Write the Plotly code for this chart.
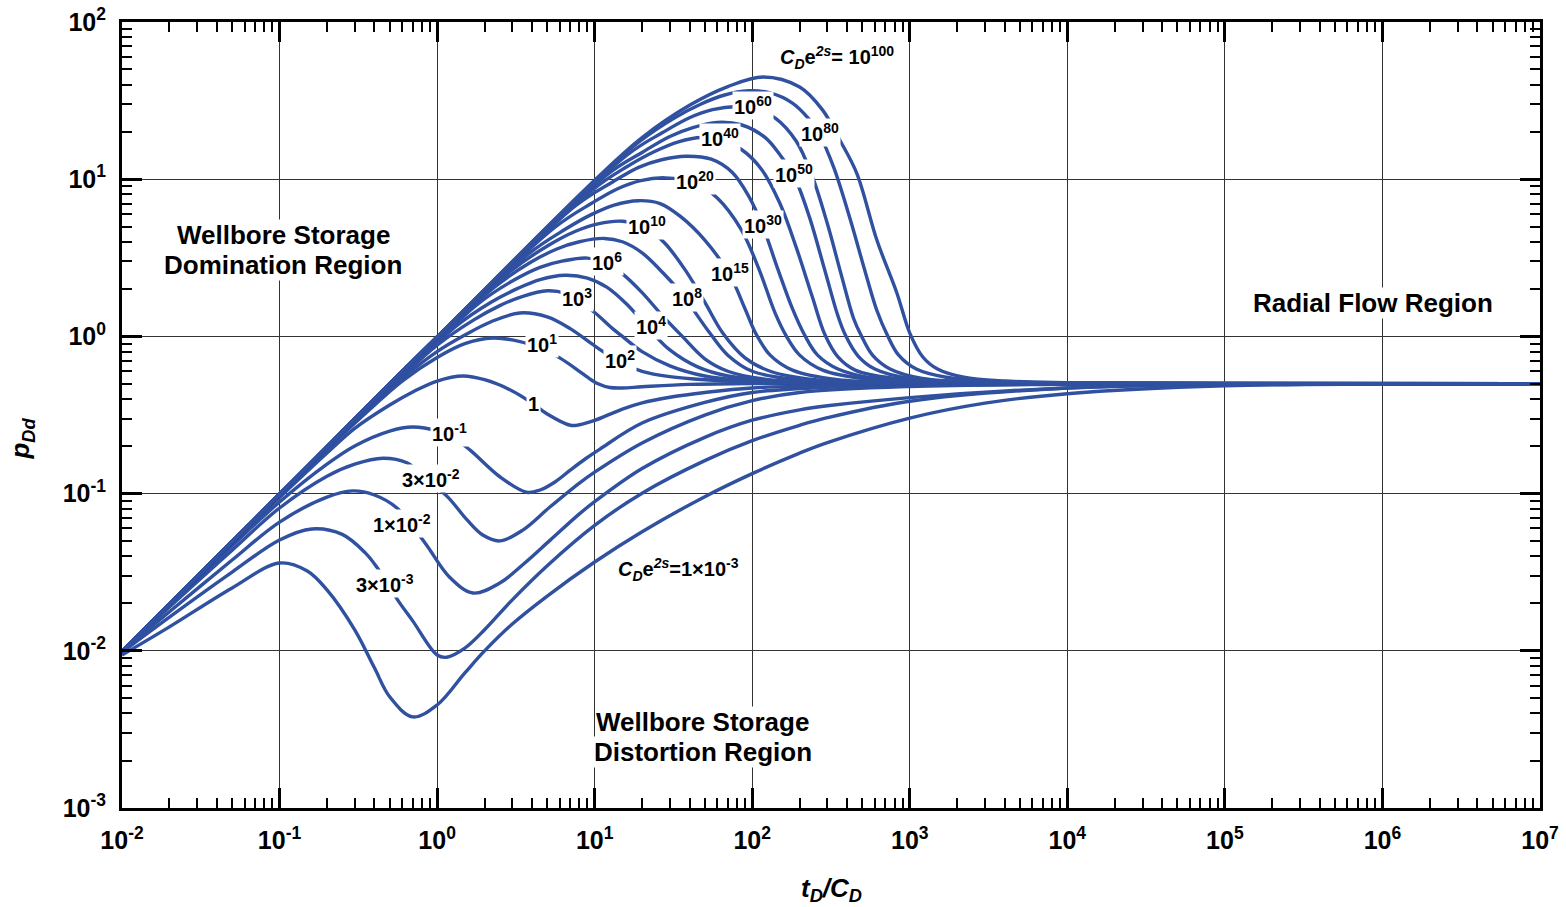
import plotly.graph_objects as go

BLUE = "#3050a0"
FONT = "Liberation Sans"

# ---- type-curve data: t_D/C_D (t_*) and p_Dd (p_*) for each C_D e^(2s) ----
# C_D e^2s = 1e-3
t_1em3 = [0.01, 0.02, 0.05, 0.1, 0.15, 0.2, 0.3, 0.4, 0.5, 0.7, 1, 1.5, 2, 3, 5, 10, 20, 50, 100, 200, 300, 1000, 3000, 1e4, 1e5, 1e6, 1e7]
p_1em3 = [0.0094, 0.0142, 0.0251, 0.0362, 0.0322, 0.0244, 0.0136, 0.0078, 0.0051, 0.0038, 0.00452, 0.00723, 0.00998, 0.0148, 0.0223, 0.0367, 0.0572, 0.0956, 0.134, 0.181, 0.211, 0.302, 0.376, 0.432, 0.485, 0.497, 0.5]
# C_D e^2s = 3e-3
t_3em3 = [0.01, 0.02, 0.05, 0.1, 0.16, 0.25, 0.35, 0.415, 0.5, 0.58, 0.7, 1.0, 1.15, 1.5, 2, 3, 5, 10, 20, 50, 100, 200, 300, 1000, 1e4, 1e5, 1e6, 1e7]
p_3em3 = [0.0098, 0.0164, 0.0317, 0.0507, 0.0596, 0.055, 0.042, 0.034, 0.0253, 0.0201, 0.0155, 0.0094, 0.0091, 0.0104, 0.0136, 0.0211, 0.0348, 0.0628, 0.1006, 0.162, 0.217, 0.272, 0.304, 0.387, 0.47, 0.493, 0.499, 0.5]
# C_D e^2s = 1e-2
t_1em2 = [0.01, 0.02, 0.05, 0.1, 0.2, 0.29, 0.4, 0.556, 0.838, 1.2, 1.69, 2.5, 3.6, 5.2, 8, 10, 20, 50, 100, 200, 300, 1000, 1e4, 1e5, 1e6, 1e7]
p_1em2 = [0.0099, 0.0177, 0.0378, 0.0659, 0.095, 0.104, 0.098, 0.081, 0.0485, 0.0294, 0.0233, 0.027, 0.0362, 0.0504, 0.0743, 0.0889, 0.1444, 0.228, 0.293, 0.341, 0.362, 0.408, 0.47, 0.495, 0.5, 0.5]
# C_D e^2s = 3e-2
t_3em2 = [0.01, 0.02, 0.05, 0.1, 0.2, 0.3, 0.453, 0.643, 0.85, 1.17, 1.55, 1.95, 2.5, 3.5, 5.2, 8, 10, 20, 50, 100, 200, 1000, 1e4, 1e5, 1e7]
p_3em2 = [0.0099, 0.019, 0.0437, 0.081, 0.129, 0.154, 0.168, 0.157, 0.125, 0.095, 0.068, 0.0545, 0.05, 0.0586, 0.0822, 0.1167, 0.137, 0.21, 0.316, 0.39, 0.44, 0.48, 0.495, 0.5, 0.5]
# C_D e^2s = 1e-1
t_1em1 = [0.01, 0.02, 0.05, 0.1, 0.2, 0.3, 0.5, 0.7, 1.0, 1.3, 1.62, 2.5, 3.7, 4.5, 5.6, 7, 8.7, 10.8, 20, 50, 100, 300, 1000, 1e4, 1e5, 1e7]
p_1em1 = [0.0099, 0.0195, 0.0466, 0.0885, 0.154, 0.201, 0.25, 0.265, 0.25, 0.222, 0.189, 0.128, 0.102, 0.1054, 0.1186, 0.141, 0.166, 0.192, 0.281, 0.38, 0.44, 0.475, 0.49, 0.498, 0.5, 0.5]
# C_D e^2s = 1
t_1e0 = [0.01, 0.02, 0.05, 0.1, 0.2, 0.3, 0.5, 0.7, 1, 1.46, 2, 3, 4, 5, 7, 8, 10, 15, 20, 30, 50, 100, 1000, 1e4, 1e7]
p_1e0 = [0.0099, 0.0196, 0.0486, 0.0944, 0.181, 0.26, 0.366, 0.443, 0.52, 0.56, 0.53, 0.45, 0.377, 0.321, 0.272, 0.274, 0.292, 0.345, 0.378, 0.41, 0.44, 0.47, 0.497, 0.5, 0.5]
# C_D e^2s = 1e1
t_1e1 = [0.01, 0.1, 0.3, 0.6, 1, 1.5, 2.26, 3, 4, 5, 6, 8, 9, 10.5, 12.5, 15, 20, 40, 100, 1000, 1e7]
p_1e1 = [0.0099, 0.098, 0.28, 0.52, 0.735, 0.9, 0.977, 0.95, 0.88, 0.8, 0.73, 0.6, 0.55, 0.5, 0.473, 0.47, 0.478, 0.495, 0.502, 0.5, 0.5]
# C_D e^2s = 1e2
t_1e2 = [0.01, 0.1, 0.3, 0.6, 1, 1.5, 2.2, 3.35, 5, 7, 10, 14.4, 20, 30, 50, 100, 300, 1000, 1e4, 1e7]
p_1e2 = [0.0099, 0.098, 0.285, 0.54, 0.8, 1.02, 1.24, 1.41, 1.33, 1.12, 0.87, 0.69, 0.6, 0.555, 0.53, 0.515, 0.505, 0.501, 0.5, 0.5]
# C_D e^2s = 1e3
t_1e3 = [0.01, 0.1, 0.3, 0.6, 1, 1.7, 2.5, 3.5, 5, 6.5, 7.7, 10, 13, 15, 20, 30, 50, 100, 300, 1000, 1e4, 1e7]
p_1e3 = [0.0099, 0.099, 0.29, 0.56, 0.88, 1.27, 1.57, 1.8, 1.95, 1.88, 1.71, 1.42, 1.12, 1.0, 0.8, 0.65, 0.56, 0.52, 0.505, 0.501, 0.5, 0.5]
# C_D e^2s = 1e4
t_1e4 = [0.01, 0.1, 0.3, 1, 1.3, 2.2, 3.25, 4.5, 6.5, 9, 12, 16, 22.6, 30, 45, 70, 150, 500, 2000, 1e7]
p_1e4 = [0.0099, 0.099, 0.292, 0.9, 1.15, 1.65, 2.02, 2.3, 2.45, 2.35, 2.05, 1.6, 1.09, 0.82, 0.64, 0.56, 0.52, 0.505, 0.5, 0.5]
# C_D e^2s = 1e6
t_1e6 = [0.01, 0.1, 1, 1.8, 3, 4.5, 6.3, 9, 11.9, 15, 20, 27, 36, 50, 70, 120, 300, 1000, 1e4, 1e7]
p_1e6 = [0.0099, 0.099, 0.93, 1.6, 2.25, 2.75, 3.02, 3.15, 2.89, 2.5, 1.9, 1.35, 1.0, 0.72, 0.6, 0.535, 0.51, 0.502, 0.5, 0.5]
# C_D e^2s = 1e8
t_1e8 = [0.01, 0.1, 1, 2.3, 3.9, 5.75, 8, 11.5, 15, 20, 27, 38.5, 45, 55, 70, 100, 200, 500, 2000, 1e7]
p_1e8 = [0.0099, 0.099, 0.96, 2.05, 2.95, 3.6, 4.0, 4.2, 4.0, 3.4, 2.55, 1.71, 1.35, 1.02, 0.76, 0.6, 0.53, 0.51, 0.502, 0.5]
# C_D e^2s = 1e10
t_1e10 = [0.01, 0.1, 1, 3, 5.1, 7.5, 10.5, 15, 21.4, 28, 38, 50, 65, 90, 130, 250, 700, 3000, 1e7]
p_1e10 = [0.0099, 0.099, 0.97, 2.65, 3.8, 4.65, 5.2, 5.4, 4.9, 3.9, 2.6, 1.65, 1.05, 0.73, 0.6, 0.53, 0.51, 0.501, 0.5]
# C_D e^2s = 1e15
t_1e15 = [0.01, 0.1, 1, 3.8, 6.5, 9.5, 13.3, 19, 26, 35, 50, 72, 90, 105, 130, 180, 350, 1000, 5000, 1e7]
p_1e15 = [0.0099, 0.099, 0.98, 3.35, 4.8, 5.95, 6.85, 7.3, 7.0, 5.8, 4.1, 2.46, 1.5, 1.05, 0.76, 0.61, 0.53, 0.51, 0.501, 0.5]
# C_D e^2s = 1e20
t_1e20 = [0.01, 0.1, 1, 5.6, 9.5, 14, 19.6, 28, 43, 60, 85, 110, 140, 165, 200, 280, 500, 1500, 1e4, 1e7]
p_1e20 = [0.0099, 0.099, 0.99, 4.95, 7.0, 8.7, 9.8, 10.2, 9.5, 7.6, 4.8, 2.7, 1.4, 1.0, 0.76, 0.61, 0.54, 0.51, 0.501, 0.5]
# C_D e^2s = 1e30
t_1e30 = [0.01, 0.1, 1, 7.6, 13, 19, 26.6, 38, 55, 75, 95, 117, 145, 180, 215, 260, 350, 600, 2000, 1e4, 1e7]
p_1e30 = [0.0099, 0.099, 0.99, 6.8, 9.6, 11.9, 13.3, 14.0, 13.4, 11.0, 7.8, 4.97, 2.7, 1.5, 1.02, 0.76, 0.62, 0.54, 0.51, 0.502, 0.5]
# C_D e^2s = 1e40
t_1e40 = [0.01, 0.1, 1, 9.6, 16, 24, 34, 48, 62, 85, 115, 150, 190, 240, 290, 350, 450, 800, 2500, 1e4, 1e7]
p_1e40 = [0.0099, 0.099, 0.99, 8.5, 12.0, 15.0, 17.3, 18.4, 17.8, 15.5, 11.5, 7.0, 3.7, 1.8, 1.02, 0.74, 0.61, 0.54, 0.51, 0.503, 0.5]
# C_D e^2s = 1e50
t_1e50 = [0.01, 0.1, 1, 12, 20, 30, 42, 60, 85, 120, 150, 184, 230, 290, 350, 390, 470, 600, 1000, 3000, 1e4, 1e7]
p_1e50 = [0.0099, 0.099, 0.99, 10.7, 14.8, 18.7, 21.3, 23.0, 22.2, 18.5, 14.3, 10.5, 5.8, 2.6, 1.35, 1.02, 0.75, 0.62, 0.54, 0.51, 0.503, 0.5]
# C_D e^2s = 1e60
t_1e60 = [0.01, 0.1, 1, 16, 27, 40, 56, 80, 101, 140, 190, 240, 300, 370, 440, 490, 580, 750, 1200, 3500, 1e4, 1e7]
p_1e60 = [0.0099, 0.099, 0.99, 14.2, 19.8, 24.6, 27.7, 29.0, 28.4, 24.5, 17.5, 10.5, 5.2, 2.4, 1.3, 1.02, 0.76, 0.62, 0.54, 0.51, 0.504, 0.5]
# C_D e^2s = 1e80
t_1e80 = [0.01, 0.1, 1, 10, 19, 32, 47, 66, 95, 130, 180, 230, 268, 330, 420, 520, 620, 720, 850, 1100, 1700, 4000, 1e4, 1e5, 1e7]
p_1e80 = [0.0099, 0.099, 0.99, 9.75, 17.2, 24.5, 30.0, 34.2, 36.5, 35.4, 30.5, 24.0, 19.1, 11.8, 5.5, 2.6, 1.45, 1.02, 0.76, 0.62, 0.55, 0.515, 0.505, 0.5, 0.5]
# C_D e^2s = 1e100
t_1e100 = [0.01, 0.1, 1, 10, 20, 40, 70, 117, 200, 280, 360, 461, 618, 828, 1000, 1210, 1500, 2200, 4000, 1e4, 1e5, 1e7]
p_1e100 = [0.0099, 0.099, 0.99, 9.85, 18.4, 29.5, 38.8, 44.7, 38.6, 27.5, 17.7, 10.9, 4.1, 1.89, 1.05, 0.74, 0.62, 0.55, 0.52, 0.508, 0.5, 0.5]

curves = [
    (t_1em3, p_1em3), (t_3em3, p_3em3), (t_1em2, p_1em2), (t_3em2, p_3em2),
    (t_1em1, p_1em1), (t_1e0, p_1e0), (t_1e1, p_1e1), (t_1e2, p_1e2),
    (t_1e3, p_1e3), (t_1e4, p_1e4), (t_1e6, p_1e6), (t_1e8, p_1e8),
    (t_1e10, p_1e10), (t_1e15, p_1e15), (t_1e20, p_1e20), (t_1e30, p_1e30),
    (t_1e40, p_1e40), (t_1e50, p_1e50), (t_1e60, p_1e60), (t_1e80, p_1e80),
    (t_1e100, p_1e100),
]

# axis decades and their labels
x_decades = [-2, -1, 0, 1, 2, 3, 4, 5, 6, 7]
y_decades = [-3, -2, -1, 0, 1, 2]
x_ticktext = ["10<sup>%d</sup>" % k for k in x_decades]
y_ticktext = ["10<sup>%d</sup>" % k for k in y_decades]

fig = go.Figure()
for t, p in curves:
    fig.add_trace(go.Scatter(
        x=t, y=p, mode="lines",
        line=dict(color=BLUE, width=3.4, shape="spline", smoothing=1.0),
        hoverinfo="skip", showlegend=False,
    ))


def minor_vals(decades):
    vals = []
    for k in decades[:-1]:
        for m in range(2, 10):
            vals.append(m * 10.0 ** k)
    return vals


axis_common = dict(
    type="log", automargin=False,
    showline=True, linewidth=3, linecolor="black", mirror="allticks",
    ticks="inside", ticklen=20, tickwidth=2.5, tickcolor="black",
    tickfont=dict(family=FONT, size=25, color="black", weight="bold"),
    showgrid=True, gridcolor="#333333", gridwidth=1,
    zeroline=False, ticklabelstandoff=8,
)

fig.update_xaxes(
    range=[-2, 7],
    tickmode="array", tickvals=[10.0 ** k for k in x_decades], ticktext=x_ticktext,
    minor=dict(tickmode="array", tickvals=minor_vals(x_decades), ticks="inside",
               ticklen=10, tickwidth=2, tickcolor="black", showgrid=False),
    **axis_common,
)
fig.update_yaxes(
    range=[-3, 2],
    tickmode="array", tickvals=[10.0 ** k for k in y_decades], ticktext=y_ticktext,
    minor=dict(tickmode="array", tickvals=minor_vals(y_decades), ticks="inside",
               ticklen=10, tickwidth=2, tickcolor="black", showgrid=False),
    **axis_common,
)

CD = "<i>C</i><sub><i>D</i></sub>e<sup><i>2s</i></sup>"

# curve labels: (text, log10 x, log10 y)
curve_labels = [
    (CD + "= 10<sup>100</sup>", 2.537, 1.774),
    ("10<sup>60</sup>", 2.004, 1.469),
    ("10<sup>80</sup>", 2.429, 1.297),
    ("10<sup>40</sup>", 1.794, 1.265),
    ("10<sup>50</sup>", 2.264, 1.036),
    ("10<sup>20</sup>", 1.636, 0.992),
    ("10<sup>30</sup>", 2.067, 0.712),
    ("10<sup>10</sup>", 1.331, 0.706),
    ("10<sup>6</sup>", 1.077, 0.477),
    ("10<sup>15</sup>", 1.858, 0.407),
    ("10<sup>3</sup>", 0.887, 0.248),
    ("10<sup>8</sup>", 1.585, 0.248),
    ("10<sup>4</sup>", 1.357, 0.069),
    ("10<sup>1</sup>", 0.665, -0.045),
    ("10<sup>2</sup>", 1.160, -0.147),
    ("1", 0.614, -0.427),
    ("10<sup>-1</sup>", 0.081, -0.611),
    ("3×10<sup>-2</sup>", -0.039, -0.904),
    ("1×10<sup>-2</sup>", -0.223, -1.190),
    ("3×10<sup>-3</sup>", -0.331, -1.572),
    (CD + "=1×10<sup>-3</sup>", 1.534, -1.483),
]

annotations = []
for text, lx, ly in curve_labels:
    annotations.append(dict(
        x=lx, y=ly, xref="x", yref="y", text=text, showarrow=False,
        xanchor="center", yanchor="middle", bgcolor="white", borderpad=1,
        font=dict(family=FONT, size=20, color="black", weight="bold"),
    ))

# region captions, one annotation per text line
region_lines = [
    ("Wellbore Storage", -0.978, 0.645),
    ("Domination Region", -0.978, 0.454),
    ("Radial Flow Region", 5.938, 0.213),
    ("Wellbore Storage", 1.687, -2.453),
    ("Distortion Region", 1.687, -2.644),
]
for text, lx, ly in region_lines:
    annotations.append(dict(
        x=lx, y=ly, xref="x", yref="y", text=text, showarrow=False,
        xanchor="center", yanchor="middle", bgcolor="white", borderpad=0,
        font=dict(family=FONT, size=26, color="black", weight="bold"),
    ))

# axis titles
annotations.append(dict(
    x=-0.0705, y=0.47, xref="paper", yref="paper", textangle=-90,
    text="<i>p</i><sub><i>Dd</i></sub>", showarrow=False,
    xanchor="center", yanchor="middle",
    font=dict(family=FONT, size=26, color="black", weight="bold"),
))
annotations.append(dict(
    x=0.5007, y=-0.104, xref="paper", yref="paper",
    text="<i>t</i><sub><i>D</i></sub><i>/C</i><sub><i>D</i></sub>", showarrow=False,
    xanchor="center", yanchor="middle",
    font=dict(family=FONT, size=26, color="black", weight="bold"),
))

fig.update_layout(
    width=1566, height=907,
    margin=dict(l=122, r=26, t=22, b=99, autoexpand=False),
    paper_bgcolor="white", plot_bgcolor="white",
    font=dict(family=FONT, color="black"),
    annotations=annotations,
    showlegend=False,
)

fig.write_html("out.html")
